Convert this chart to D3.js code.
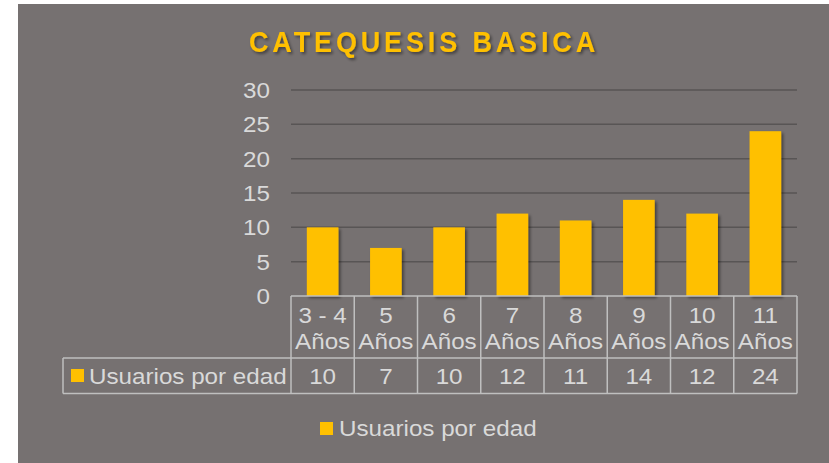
<!DOCTYPE html>
<html>
<head>
<meta charset="utf-8">
<script src="https://cdn.jsdelivr.net/npm/d3@7"></script>
<style>
  body { margin: 0; background: #ffffff; }
  svg { display: block; font-family: "Liberation Sans", Arial, sans-serif; }
</style>
</head>
<body>
<svg id="chart"></svg>
<script>
// chart data
const title = "CATEQUESIS BASICA";
const seriesName = "Usuarios por edad";
const categories = [["3 - 4", "Años"], ["5", "Años"], ["6", "Años"], ["7", "Años"],
  ["8", "Años"], ["9", "Años"], ["10", "Años"], ["11", "Años"]];
const values = [10, 7, 10, 12, 11, 14, 12, 24];
const yTicks = [0, 5, 10, 15, 20, 25, 30];

const width = 829;
const height = 463;
const textColor = "#d9d9d9";
const barColor = "#ffc000";
const lineColor = "#bfbfbf";
const sx = 1.1; // text in the source is stretched horizontally

const svg = d3.select("#chart")
    .attr("width", width)
    .attr("height", height);

// drop shadow used by bars and title
const defs = svg.append("defs");
defs.append("filter")
    .attr("id", "shadow")
    .attr("x", "-20%").attr("y", "-20%")
    .attr("width", "150%").attr("height", "150%")
    .append("feDropShadow")
    .attr("dx", 2).attr("dy", 2)
    .attr("stdDeviation", 1.5)
    .attr("flood-color", "#000")
    .attr("flood-opacity", 0.45);

// gray chart area
svg.append("rect")
    .attr("x", 18).attr("y", 4)
    .attr("width", width - 18).attr("height", height - 4)
    .attr("fill", "#767171");

// helper: place stretched text
function stretchedText(g, x, y, txt, anchor) {
  return g.append("text")
      .attr("transform", "translate(" + x + "," + y + ") scale(" + sx + ",1)")
      .attr("text-anchor", anchor)
      .attr("fill", textColor)
      .attr("font-size", 22)
      .text(txt);
}

// title
svg.append("text")
    .attr("transform", "translate(424,51.5) scale(0.9,1)")
    .attr("text-anchor", "middle")
    .attr("font-size", 30)
    .attr("font-weight", "bold")
    .attr("letter-spacing", 4.3)
    .attr("fill", barColor)
    .attr("filter", "url(#shadow)")
    .text(title);

// scales: 8 columns of 63.25px starting at the plot's left edge
const band = d3.scaleBand()
    .domain(d3.range(categories.length))
    .range([291, 291 + categories.length * 63.25]);
const x = d3.scaleBand()
    .domain(band.domain())
    .range(band.range())
    .paddingInner(0.5)
    .paddingOuter(0.25);
const y = d3.scaleLinear()
    .domain([0, 30])
    .range([296, 90]);

// gridlines
svg.append("g")
    .selectAll("line")
    .data(yTicks.filter(d => d > 0))
    .enter()
    .append("line")
    .attr("x1", band.range()[0])
    .attr("x2", band.range()[1])
    .attr("y1", d => y(d))
    .attr("y2", d => y(d))
    .attr("stroke", "#585555")
    .attr("stroke-width", 1.5);

// y axis labels
const yAxis = svg.append("g");
yTicks.forEach(function(t) {
  stretchedText(yAxis, 270, y(t) + 8, t, "end");
});

// bars
svg.append("g")
    .selectAll("rect")
    .data(values)
    .enter()
    .append("rect")
    .attr("x", (d, i) => x(i))
    .attr("width", x.bandwidth())
    .attr("y", d => y(d))
    .attr("height", d => y(0) - y(d))
    .attr("fill", barColor)
    .attr("filter", "url(#shadow)");

// data table
const table = svg.append("g")
    .attr("stroke", lineColor)
    .attr("stroke-width", 1.5)
    .attr("fill", "none");
const x0 = band.range()[0];
const x1 = band.range()[1];
const rowTop = 296, rowMid = 358, rowBot = 393.5;
const tableLeft = 63;

table.append("line").attr("x1", x0).attr("x2", x1).attr("y1", rowTop).attr("y2", rowTop);
table.append("line").attr("x1", tableLeft).attr("x2", x1).attr("y1", rowMid).attr("y2", rowMid);
table.append("line").attr("x1", tableLeft).attr("x2", x1).attr("y1", rowBot).attr("y2", rowBot);
table.append("line").attr("x1", tableLeft).attr("x2", tableLeft).attr("y1", rowMid).attr("y2", rowBot);
table.selectAll("line.col")
    .data(d3.range(categories.length + 1))
    .enter()
    .append("line")
    .attr("class", "col")
    .attr("x1", i => x0 + i * band.step())
    .attr("x2", i => x0 + i * band.step())
    .attr("y1", rowTop)
    .attr("y2", rowBot);

// category labels and values
const cells = svg.append("g");
categories.forEach(function(c, i) {
  const cx = band(i) + band.bandwidth() / 2;
  stretchedText(cells, cx, 322.5, c[0], "middle");
  stretchedText(cells, cx, 349, c[1], "middle");
  stretchedText(cells, cx, 384, values[i], "middle");
});

// legend key in table
cells.append("rect")
    .attr("x", 71).attr("y", 369)
    .attr("width", 13).attr("height", 13)
    .attr("fill", barColor);
stretchedText(cells, 89, 384, seriesName, "start");

// bottom legend
const legend = svg.append("g");
legend.append("rect")
    .attr("x", 320).attr("y", 422)
    .attr("width", 13).attr("height", 13)
    .attr("fill", barColor);
stretchedText(legend, 339, 436, seriesName, "start");
</script>
</body>
</html>
